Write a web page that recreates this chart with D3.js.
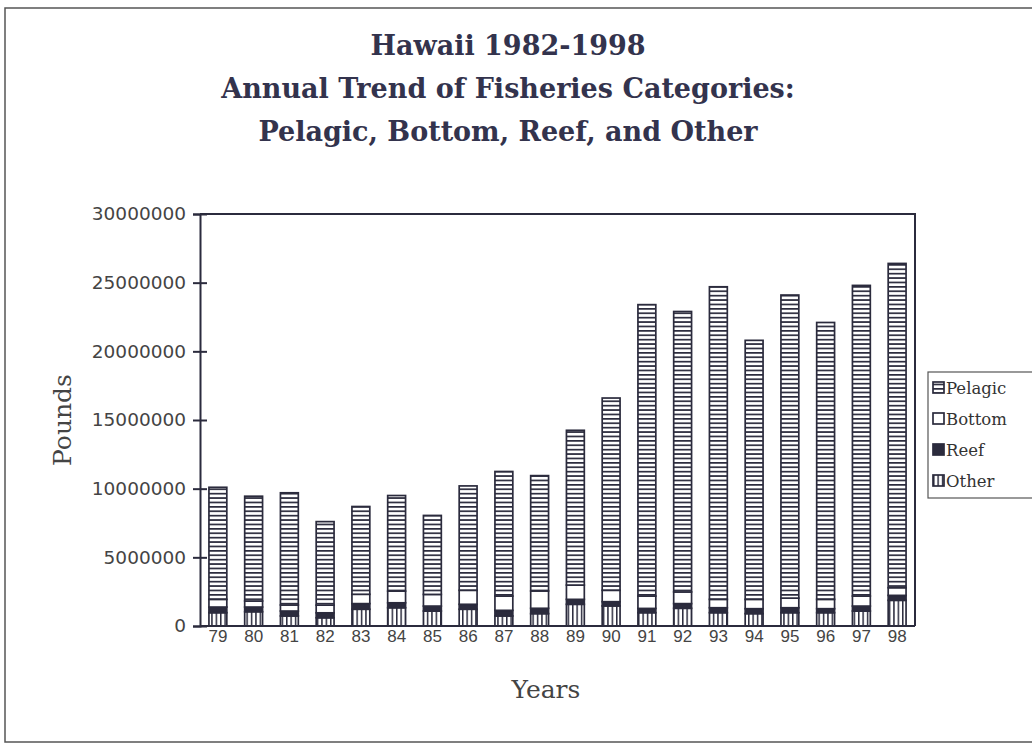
<!DOCTYPE html>
<html lang="en">
<head>
<meta charset="utf-8">
<title>Hawaii 1982-1998 Fisheries Categories</title>
<script src="https://d3js.org/d3.v7.min.js"></script>
<style>
  body { margin: 0; background: #fff; }
  .serif { font-family: "DejaVu Serif", serif; }
  .sans { font-family: "DejaVu Sans", sans-serif; }
  .narrow { font-family: "Liberation Sans Narrow", "Liberation Sans", Arial, sans-serif; }
</style>
</head>
<body>
<svg width="1032" height="748"></svg>
<script>
// values (pounds)
const years   = ['79','80','81','82','83','84','85','86','87','88','89','90','91','92','93','94','95','96','97','98'];
const other   = [970000,1040000,730000,600000,1220000,1330000,1090000,1220000,730000,900000,1580000,1460000,970000,1290000,970000,900000,970000,970000,1090000,1870000];
const reef    = [410000,340000,360000,360000,410000,360000,360000,360000,410000,390000,360000,310000,310000,340000,360000,360000,360000,290000,360000,360000];
const bottom  = [560000,440000,440000,560000,680000,850000,850000,1020000,1040000,1260000,1040000,830000,900000,850000,610000,680000,700000,680000,730000,560000];
const pelagic = [8160000,7630000,8170000,6080000,6390000,6960000,5750000,7600000,9070000,8400000,11270000,14000000,21220000,20420000,22760000,18860000,22070000,20160000,22620000,23610000];
const yTicks  = [0,5000000,10000000,15000000,20000000,25000000,30000000];
const seriesNames = ['Other','Reef','Bottom','Pelagic'];
const titleLines = ['Hawaii 1982-1998', 'Annual Trend of Fisheries Categories:', 'Pelagic, Bottom, Reef, and Other'];

const ink = '#2b2b3d';
const svg = d3.select('svg');

// outer frame
svg.append('rect')
  .attr('x', 5).attr('y', 8).attr('width', 1040).attr('height', 734)
  .attr('fill', 'none').attr('stroke', '#555').attr('stroke-width', 1.5);

// patterns
const defs = svg.append('defs');
const ph = defs.append('pattern').attr('id', 'hstripe')
  .attr('patternUnits', 'userSpaceOnUse').attr('width', 8).attr('height', 4.4);
ph.append('rect').attr('width', 8).attr('height', 4.4).attr('fill', '#fff');
ph.append('rect').attr('y', 0).attr('width', 8).attr('height', 1.7).attr('fill', ink);

const pv = defs.append('pattern').attr('id', 'vstripe')
  .attr('patternUnits', 'userSpaceOnUse').attr('width', 4.4).attr('height', 8);
pv.append('rect').attr('width', 4.4).attr('height', 8).attr('fill', '#fff');
pv.append('rect').attr('x', 0).attr('width', 1.5).attr('height', 8).attr('fill', ink);

const fills = { Other: 'url(#vstripe)', Reef: ink, Bottom: '#fff', Pelagic: 'url(#hstripe)' };

// data table for stacking
const rows = years.map((yr, i) => ({
  year: yr, Other: other[i], Reef: reef[i], Bottom: bottom[i], Pelagic: pelagic[i]
}));
const stacked = d3.stack().keys(seriesNames)(rows);

const plotL = 200, plotR = 915, plotT = 214, plotB = 626;
const x = d3.scaleBand().domain(years).range([plotL, plotR]).paddingInner(0.5).paddingOuter(0.25);
const y = d3.scaleLinear().domain([0, 30000000]).range([plotB, plotT]);

// title
svg.append('g').selectAll('text')
  .data(titleLines).enter().append('text')
  .attr('class', 'serif')
  .attr('x', 508)
  .attr('y', (d, i) => 55 + i * 43)
  .attr('text-anchor', 'middle')
  .attr('font-size', 27)
  .attr('font-weight', 'bold')
  .attr('fill', '#33334d')
  .text(d => d);

// bars
const layer = svg.append('g').selectAll('g')
  .data(stacked).enter().append('g')
  .attr('fill', d => fills[d.key]);

layer.selectAll('rect')
  .data(d => d).enter().append('rect')
  .attr('x', d => x(d.data.year))
  .attr('y', d => y(d[1]))
  .attr('width', x.bandwidth())
  .attr('height', d => y(d[0]) - y(d[1]))
  .attr('stroke', ink)
  .attr('stroke-width', 1.7);

// plot frame (top + right)
svg.append('path')
  .attr('d', `M${plotL},${plotT}H${plotR}V${plotB}`)
  .attr('fill', 'none').attr('stroke', ink).attr('stroke-width', 2);

// y axis
const yAxis = svg.append('g')
  .attr('transform', `translate(${plotL},0)`)
  .call(d3.axisLeft(y).tickValues(yTicks).tickFormat(d3.format('d')).tickSize(7).tickPadding(7));
yAxis.select('.domain').attr('stroke', ink).attr('stroke-width', 2);
yAxis.selectAll('.tick line').attr('stroke', ink).attr('stroke-width', 2).attr('x2', 7).attr('x1', -7);
yAxis.selectAll('text').attr('class', 'sans').attr('font-size', 18.5).attr('fill', '#444');

// x axis
const xAxis = svg.append('g')
  .attr('transform', `translate(0,${plotB})`)
  .call(d3.axisBottom(x).tickSize(0).tickPadding(4));
xAxis.select('.domain').attr('stroke', ink).attr('stroke-width', 2).attr('d', `M${plotL},0H${plotR}`);
xAxis.selectAll('text').attr('class', 'narrow').attr('font-size', 17).attr('fill', '#444');

// axis titles
svg.append('text').attr('class', 'serif')
  .attr('x', 546).attr('y', 698)
  .attr('text-anchor', 'middle').attr('font-size', 25).attr('fill', '#444')
  .text('Years');
svg.append('text').attr('class', 'serif')
  .attr('transform', 'translate(71,420) rotate(-90)')
  .attr('text-anchor', 'middle').attr('font-size', 25).attr('fill', '#444')
  .text('Pounds');

// legend
const legend = svg.append('g').attr('transform', 'translate(928,372)');
legend.append('rect')
  .attr('width', 110).attr('height', 126)
  .attr('fill', '#fff').attr('stroke', '#555').attr('stroke-width', 1.2);
const legendOrder = ['Pelagic', 'Bottom', 'Reef', 'Other'];
const item = legend.selectAll('.item')
  .data(legendOrder).enter().append('g')
  .attr('transform', (d, i) => `translate(5,${16 + i * 31})`);
item.append('rect')
  .attr('x', 0).attr('y', -6).attr('width', 11).attr('height', 11)
  .attr('fill', d => fills[d]).attr('stroke', ink).attr('stroke-width', 1.7);
item.append('text').attr('class', 'serif')
  .attr('x', 13).attr('y', 5.5)
  .attr('font-size', 16.5).attr('fill', '#333')
  .text(d => d);
</script>
</body>
</html>
